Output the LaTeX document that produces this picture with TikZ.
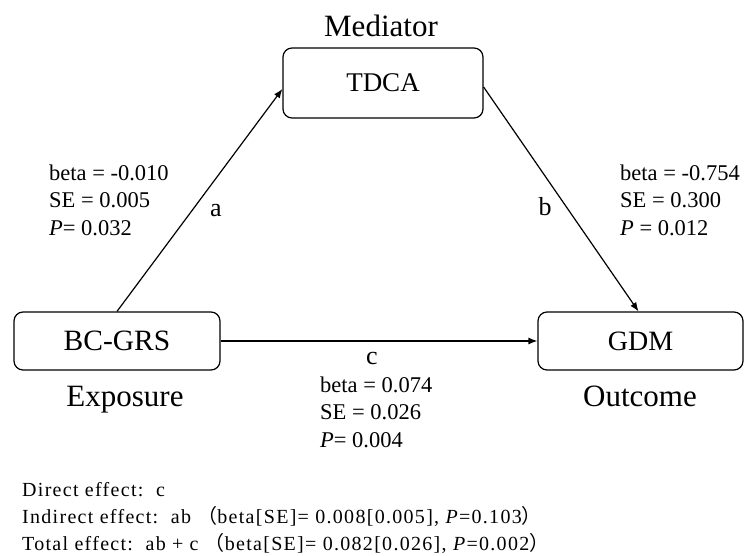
\documentclass[tikz,border=0pt]{standalone}
\usepackage{fontspec}
\setmainfont{Liberation Serif}
\newfontfamily\cjk{Noto Sans CJK SC}
\newfontfamily\notefont[LetterSpace=6.5]{Liberation Serif}
\usetikzlibrary{arrows.meta}
\tikzset{
  box/.style={draw, line width=1.2pt, rounded corners=9pt, minimum width=#1, minimum height=58pt, inner sep=0pt},
  conn/.style={line width=1.2pt, -{Latex[length=9pt,width=7pt]}},
  stat/.style={anchor=west, align=left, inner sep=0pt, font=\fontsize{22.5}{27.5}\selectfont},
  role/.style={inner sep=0pt, anchor=base, font=\fontsize{31}{34}\selectfont},
  path lab/.style={inner sep=0pt, font=\fontsize{26}{30}\selectfont},
  note/.style={anchor=west, align=left, inner sep=0pt, font=\notefont\fontsize{20}{27}\selectfont}
}
\begin{document}
\begin{tikzpicture}[x=1pt,y=-1pt]
\useasboundingbox (0,0) rectangle (749,556);
\node[box=200pt, minimum height=70pt, font=\fontsize{27}{30}\selectfont] (tdca) at (383,83) {TDCA};
\node[box=206pt, font=\fontsize{29.5}{30}\selectfont] (bc) at (117,341) {BC-GRS};
\node[box=205pt, font=\fontsize{28}{30}\selectfont] (gdm) at (640.5,341) {GDM};
\node[role] (med) at (381,37) {Mediator};
\node[role] (exp) at (125,406) {Exposure};
\node[role] (out) at (640,406) {Outcome};
\draw[conn] (bc.north) -- ([yshift=-6pt]tdca.west);
\draw[conn] ([yshift=-4pt]tdca.east) -- ([xshift=-2pt]gdm.north);
\draw[conn] (bc.east) -- (gdm.west);
\node[path lab] (la) at (216,211) {a};
\node[path lab] (lb) at (545,207) {b};
\node[path lab] (lc) at (372,358) {c};
\node[stat] (sa) at (49,200) {beta = -0.010\\SE = 0.005\\\textit{P}= 0.032};
\node[stat] (sb) at (620,200) {beta = -0.754\\SE = 0.300\\\textit{P} = 0.012};
\node[stat] (sc) at (320,412) {beta = 0.074\\SE = 0.026\\\textit{P}= 0.004};
\node[note] (eff) at (22,518) {Direct effect:\ \ c\\
Indirect effect:\ \ ab\ {\cjk （}beta[SE]= 0.008[0.005], \textit{P}=0.103{\cjk ）}\\
Total effect:\ \ ab + c\ {\cjk （}beta[SE]= 0.082[0.026], \textit{P}=0.002{\cjk ）}};
\end{tikzpicture}
\end{document}
